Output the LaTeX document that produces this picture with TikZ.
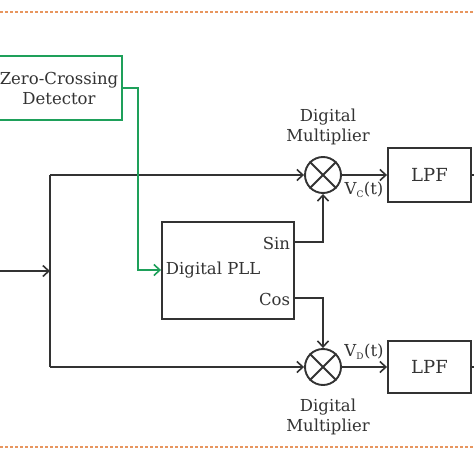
\documentclass[tikz,border=0pt]{standalone}
\usepackage{fontspec}
\setmainfont{DejaVu Serif}
\usetikzlibrary{arrows.meta}
\definecolor{ln}{RGB}{51,51,51}
\definecolor{gr}{RGB}{30,160,90}
\definecolor{orng}{RGB}{232,150,95}
\begin{document}
\begin{tikzpicture}[x=1pt,y=-1pt,
  line width=1.9pt, draw=ln, text=ln,
  every node/.style={font=\fontsize{16.5}{19}\selectfont, inner sep=0pt},
  arr/.style={-{Straight Barb[length=6pt,width=11pt,line width=1.6pt]}},
  blk/.style={draw=ln, rectangle, line width=1.9pt},
  mult/.style={draw=ln, circle, minimum size=36pt, line width=1.9pt}]
\useasboundingbox (0,0) rectangle (474,474);
% dashed borders
\draw[orng, line width=1.2pt, dash pattern=on 3pt off 2pt] (0,12) -- (474,12);
\draw[orng, line width=1.2pt, dash pattern=on 3pt off 2pt] (0,447) -- (474,447);
% zero crossing detector
\node[blk, draw=gr, minimum width=126pt, minimum height=64pt, align=center] (zcd) at (59,88) {Zero-Crossing\\[1pt]Detector};
% PLL
\node[blk, minimum width=132pt, minimum height=97pt] (pll) at (228,270.5) {};
\node[anchor=west] (pllt) at (165,270) {Digital PLL};
\node[anchor=east] (sin) at (291,243) {Sin};
\node[anchor=east] (cos) at (291,299) {Cos};
% multipliers
\node[mult] (m1) at (323,175) {};
\node[mult] (m2) at (323,367) {};
\draw (m1.north west) -- (m1.south east) (m1.north east) -- (m1.south west);
\draw (m2.north west) -- (m2.south east) (m2.north east) -- (m2.south west);
\node[align=center] (m1l) at (328,127) {Digital\\[1pt]Multiplier};
\node[align=center] (m2l) at (328,417) {Digital\\[1pt]Multiplier};
% LPFs
\node[blk, minimum width=83pt, minimum height=54pt, font=\fontsize{18}{20}\selectfont] (lpf1) at (429.5,175) {LPF};
\node[blk, minimum width=83pt, minimum height=52pt, font=\fontsize{18}{20}\selectfont] (lpf2) at (429.5,367) {LPF};
\coordinate (o1) at (474,175);
\coordinate (o2) at (474,367);
\draw (lpf1.east) -- (o1);
\draw (lpf2.east) -- (o2);
% input
\coordinate (in) at (0,271);
\coordinate (j) at (50,271);
\draw[arr] (in) -- (j);
\draw (50,175) -- (50,367);
\draw[arr] (50,175) -- (m1.west);
\draw[arr] (50,367) -- (m2.west);
% green
\draw[gr, arr] (zcd.east |- 0,88) -- (138,88) -- (138,270) -- (pll.west |- 0,270);
% sin/cos
\draw[arr] (pll.east |- 0,242) -- (323,242) -- (m1.south);
\draw[arr] (pll.east |- 0,298) -- (323,298) -- (m2.north);
% outputs
\draw[arr] (m1.east) -- (lpf1.west);
\draw[arr] (m2.east) -- (lpf2.west);
\node (vc) at (364,190) {V\textsubscript{\fontsize{9}{10}\selectfont C}(t)};
\node (vd) at (364,352) {V\textsubscript{\fontsize{9}{10}\selectfont D}(t)};
\end{tikzpicture}
\end{document}
